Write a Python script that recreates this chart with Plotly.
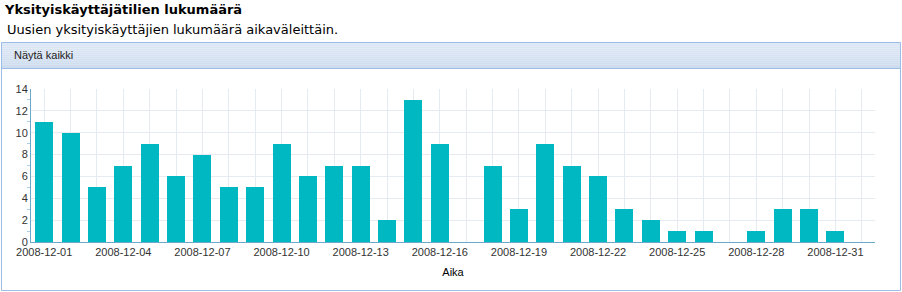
import plotly.graph_objects as go

dates = ["2008-12-%02d" % d for d in range(1, 32)]
counts = [11, 10, 5, 7, 9, 6, 8, 5, 5, 9, 6, 7, 7, 2, 13, 9, 0, 7, 3, 9, 7, 6, 3, 2, 1, 1, 0, 1, 3, 3, 1]

title_text = "Yksityiskäyttäjätilien lukumäärä"
subtitle_text = "Uusien yksityiskäyttäjien lukumäärä aikaväleittäin."
header_text = "Näytä kaikki"
x_title = "Aika"

W, H = 902, 292
L, R, T, B = 31, 27, 89, 50
PW, PH = W - L - R, H - T - B

def px(x):
    return (x - L) / PW

def py(y):
    return (H - B - y) / PH

DAY = 86400000

fig = go.Figure()
fig.add_trace(go.Bar(
    x=dates, y=counts,
    width=[0.68 * DAY] * len(dates),
    marker=dict(color="#00B8C2", line=dict(width=0)),
    hoverinfo="x+y",
))

shapes = []
shapes.append(dict(type="rect", xref="paper", yref="paper",
                   x0=px(1.5), x1=px(900.5), y0=py(290.5), y1=py(42.5),
                   line=dict(color="#9DBCE6", width=1), fillcolor="rgba(0,0,0,0)", layer="below"))
top, bot = 43, 68
n = 13
c0 = (222, 232, 246)
c1 = (206, 220, 239)
for i in range(n):
    y0 = top + (bot - top) * i / n
    y1 = top + (bot - top) * (i + 1) / n
    f = i / (n - 1)
    col = "rgb(%d,%d,%d)" % tuple(int(c0[k] + (c1[k] - c0[k]) * f) for k in range(3))
    shapes.append(dict(type="rect", xref="paper", yref="paper",
                       x0=px(2), x1=px(900), y0=py(y1), y1=py(y0),
                       line=dict(width=0), fillcolor=col, layer="below"))
shapes.append(dict(type="line", xref="paper", yref="paper",
                   x0=px(1.5), x1=px(900.5), y0=py(68.5), y1=py(68.5),
                   line=dict(color="#9DBCE6", width=1)))
shapes.append(dict(type="line", xref="paper", yref="paper",
                   x0=px(1.5), x1=px(900.5), y0=py(42.5), y1=py(42.5),
                   line=dict(color="#9DBCE6", width=1)))

annotations = [
    dict(text="<b>" + title_text + "</b>", xref="paper", yref="paper",
         x=px(2), y=py(9), xanchor="left", yanchor="middle", showarrow=False,
         font=dict(family="DejaVu Sans", size=13, color="#000000")),
    dict(text=subtitle_text, xref="paper", yref="paper",
         x=px(5), y=py(29), xanchor="left", yanchor="middle", showarrow=False,
         font=dict(family="DejaVu Sans", size=13, color="#000000")),
    dict(text=header_text, xref="paper", yref="paper",
         x=px(12), y=py(55.5), xanchor="left", yanchor="middle", showarrow=False,
         font=dict(family="Liberation Sans", size=11, color="#222222")),
]

fig.update_layout(
    width=W, height=H,
    margin=dict(l=L, r=R, t=T, b=B, pad=0),
    paper_bgcolor="#FFFFFF", plot_bgcolor="#FFFFFF",
    showlegend=False,
    bargap=0,
    shapes=shapes,
    annotations=annotations,
    font=dict(family="Liberation Sans", size=11, color="#333333"),
    xaxis=dict(
        type="date",
        range=["2008-11-30 12:00", "2009-01-01 12:00"],
        tick0="2008-12-01", dtick=3 * DAY, tickformat="%Y-%m-%d",
        showgrid=True, gridcolor="#E6EBF2", gridwidth=1,
        minor=dict(dtick=DAY, tick0="2008-12-01", showgrid=True, gridcolor="#E6EBF2", gridwidth=1, ticks=""),
        showline=True, linecolor="#6AA9C9", linewidth=1,
        ticks="", ticklen=0,
        tickfont=dict(family="Liberation Sans", size=11, color="#333333"),
        title=dict(text=x_title, font=dict(family="Liberation Sans", size=11, color="#000000"), standoff=11),
        zeroline=False, fixedrange=True,
    ),
    yaxis=dict(
        range=[0, 14], dtick=2, tick0=0,
        showgrid=True, gridcolor="#E6EBF2", gridwidth=1,
        showline=True, linecolor="#6AA9C9", linewidth=1,
        ticks="",
        minor=dict(dtick=1, tick0=1, ticks="outside", ticklen=3, tickcolor="#A9D0E4", tickwidth=1, showgrid=False),
        tickfont=dict(family="Liberation Sans", size=11, color="#333333"),
        zeroline=False, fixedrange=True,
    ),
)

fig.write_html("out.html")
